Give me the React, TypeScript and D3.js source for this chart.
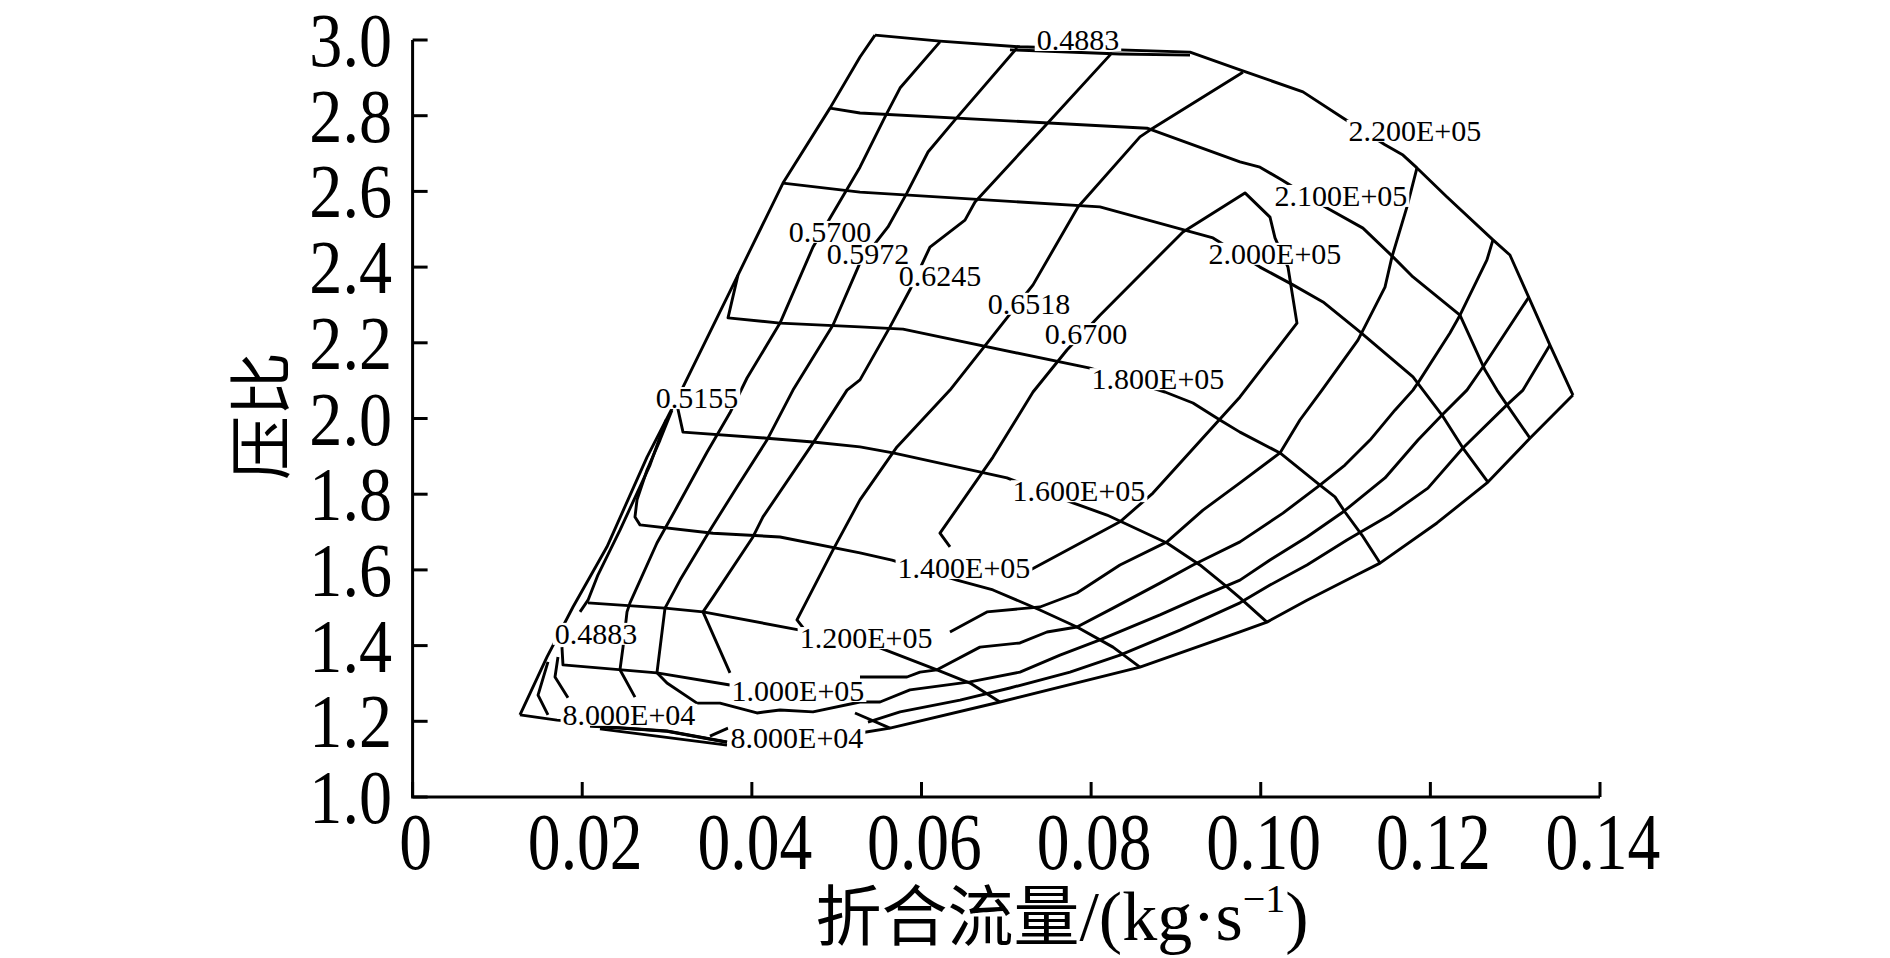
import React from "react";
import * as d3 from "d3";

type Pt = [number, number];

// ---- axis ticks ----
const xTicks = [0, 0.02, 0.04, 0.06, 0.08, 0.1, 0.12, 0.14];
const xTickLabels = ["0", "0.02", "0.04", "0.06", "0.08", "0.10", "0.12", "0.14"];
const yTicks = [1.0, 1.2, 1.4, 1.6, 1.8, 2.0, 2.2, 2.4, 2.6, 2.8, 3.0];
const yTickLabels = ["1.0", "1.2", "1.4", "1.6", "1.8", "2.0", "2.2", "2.4", "2.6", "2.8", "3.0"];

// ---- surge line (flow kg/s, pressure ratio) ----
const surgeLine: Pt[] = [[0.05452,3.013],[0.05275,2.955],[0.04921,2.820],[0.04367,2.622],[0.03836,2.379],[0.03188,2.083],[0.02764,1.898],[0.02292,1.661],[0.01891,1.502],[0.01585,1.370],[0.01266,1.217]];

// ---- speed lines ----
const speed220: Pt[] = [[0.05452,3.013],[0.06218,2.997],[0.07161,2.982],[0.09166,2.968],[0.09755,2.921],[0.10498,2.863],[0.10970,2.794],[0.11465,2.723],[0.11677,2.696],[0.11842,2.662],[0.12196,2.585],[0.12738,2.472],[0.12938,2.432],[0.13410,2.194],[0.13681,2.062]];
const speed210: Pt[] = [[0.04921,2.820],[0.05275,2.807],[0.08659,2.767],[0.09755,2.678],[0.09991,2.664],[0.10250,2.630],[0.10781,2.556],[0.11205,2.503],[0.11559,2.427],[0.11795,2.374],[0.12349,2.273],[0.12644,2.128],[0.12785,2.075],[0.12903,2.036],[0.13174,1.948]];
const speed200: Pt[] = [[0.04367,2.622],[0.05275,2.598],[0.08104,2.559],[0.09437,2.477],[0.09991,2.400],[0.10380,2.353],[0.10734,2.308],[0.11170,2.229],[0.11795,2.110],[0.11913,2.075],[0.12137,2.009],[0.12384,1.922],[0.12679,1.832]];
const speed180: Pt[] = [[0.03836,2.379],[0.03719,2.266],[0.04332,2.252],[0.05275,2.242],[0.05782,2.236],[0.07987,2.133],[0.08871,2.070],[0.09201,2.041],[0.09519,1.996],[0.09755,1.964],[0.10227,1.909],[0.10698,1.824],[0.10875,1.793],[0.10993,1.753],[0.11193,1.692],[0.11406,1.618]];
const speed160: Pt[] = [[0.03105,2.049],[0.03188,1.964],[0.04178,1.948],[0.04721,1.938],[0.05275,1.925],[0.05664,1.909],[0.07008,1.843],[0.07786,1.777],[0.08187,1.745],[0.08894,1.671],[0.09283,1.613],[0.09602,1.555],[0.09755,1.526],[0.10073,1.462]];
const speed140: Pt[] = [[0.03058,2.022],[0.02917,1.943],[0.02764,1.864],[0.02646,1.785],[0.02622,1.740],[0.02681,1.719],[0.03542,1.697],[0.04332,1.687],[0.05275,1.645],[0.05652,1.626],[0.06418,1.573],[0.06843,1.547],[0.07397,1.494],[0.07833,1.449],[0.08258,1.396],[0.08576,1.343]];
const speed120Leg: Pt[] = [[0.02988,1.996],[0.02799,1.877],[0.02445,1.705],[0.02186,1.587],[0.02068,1.520],[0.01974,1.489]];
const speed120: Pt[] = [[0.02068,1.513],[0.02976,1.499],[0.03424,1.489],[0.04567,1.441],[0.05511,1.394],[0.06183,1.336],[0.06572,1.301],[0.06925,1.251]];
const speed100a: Pt[] = [[0.01761,1.396],[0.01773,1.349],[0.02881,1.328],[0.03742,1.296]];
const speed100b: Pt[] = [[0.05216,1.222],[0.05629,1.182]];
const speed80a: Pt[] = [[0.01266,1.217],[0.01702,1.203],[0.02209,1.193]];
const speed80b: Pt[] = [[0.02092,1.188],[0.02999,1.174],[0.03707,1.145]];
const speed80c: Pt[] = [[0.02209,1.180],[0.03707,1.137]];
const speed80tick: Pt[] = [[0.03506,1.161],[0.03719,1.182]];
const chokeBoundary: Pt[] = [[0.13681,2.062],[0.13174,1.948],[0.12679,1.832],[0.12078,1.724],[0.11406,1.618],[0.11135,1.587],[0.10545,1.520],[0.10073,1.462],[0.09755,1.436],[0.08576,1.343],[0.06925,1.251],[0.05629,1.182],[0.05275,1.169]];

// ---- efficiency contours ----
const eff4883Top: Pt[] = [[0.07043,2.974],[0.08340,2.963],[0.09166,2.960]];
const eff4883LowA: Pt[] = [[0.01714,1.370],[0.01679,1.317],[0.01832,1.262]];
const eff4883LowB: Pt[] = [[0.01596,1.357],[0.01479,1.269],[0.01596,1.217]];
const eff5700Left: Pt[] = [[0.06218,2.995],[0.05747,2.873],[0.05570,2.797],[0.05275,2.664],[0.04957,2.543],[0.04721,2.453],[0.04332,2.252],[0.03943,2.107],[0.03742,2.015],[0.03471,1.911],[0.03117,1.766],[0.02881,1.671],[0.02563,1.513],[0.02528,1.489],[0.02481,1.396],[0.02445,1.336],[0.02622,1.264]];
const eff5700Right: Pt[] = [[0.05369,1.198],[0.05747,1.225],[0.06454,1.256],[0.07043,1.288],[0.07751,1.330],[0.08340,1.375],[0.09048,1.441],[0.09755,1.513],[0.10109,1.560],[0.10545,1.613],[0.11017,1.679],[0.11523,1.745],[0.11971,1.816],[0.12384,1.922],[0.12903,2.036],[0.13092,2.075],[0.13410,2.194]];
const eff5972: Pt[] = [[0.07126,2.979],[0.06395,2.789],[0.06077,2.704],[0.05829,2.596],[0.05605,2.506],[0.05275,2.411],[0.04957,2.247],[0.04485,2.075],[0.04178,1.943],[0.03825,1.819],[0.03506,1.705],[0.03153,1.573],[0.02976,1.499],[0.02881,1.328],[0.02999,1.301],[0.03353,1.248],[0.03624,1.248],[0.04060,1.222],[0.04332,1.230],[0.04721,1.225],[0.05275,1.251],[0.05511,1.251],[0.05864,1.283],[0.06572,1.304],[0.07161,1.330],[0.07633,1.375],[0.08104,1.415],[0.08812,1.481],[0.09283,1.528],[0.09755,1.573],[0.10109,1.626],[0.10545,1.687],[0.10970,1.753],[0.11465,1.843],[0.11854,1.943],[0.12149,2.012],[0.12431,2.075],[0.12620,2.136],[0.13162,2.321]];
const eff6245a: Pt[] = [[0.08246,2.966],[0.07432,2.767],[0.06631,2.572],[0.06513,2.524],[0.06100,2.453],[0.05864,2.340],[0.05629,2.242],[0.05275,2.102],[0.05122,2.075],[0.04721,1.935],[0.04131,1.740],[0.04013,1.687],[0.03542,1.528],[0.03424,1.489],[0.03742,1.328]];
const eff6245b: Pt[] = [[0.05275,1.317],[0.05829,1.317],[0.05982,1.330],[0.06183,1.336],[0.06689,1.396],[0.07161,1.407],[0.07480,1.436],[0.07833,1.449],[0.08258,1.499],[0.08812,1.565],[0.09201,1.613],[0.09755,1.674],[0.10262,1.750],[0.10698,1.824],[0.10993,1.877],[0.11288,1.943],[0.11582,2.022],[0.11795,2.075],[0.11877,2.102],[0.12231,2.226],[0.12349,2.273],[0.12667,2.419],[0.12738,2.472]];
const eff6518a: Pt[] = [[0.09790,2.915],[0.08694,2.762],[0.08576,2.744],[0.07845,2.559],[0.07315,2.353],[0.07008,2.266],[0.06336,2.075],[0.05711,1.925],[0.05275,1.785],[0.04957,1.653],[0.04532,1.468],[0.04626,1.441]];
const eff6518b: Pt[] = [[0.06336,1.436],[0.06772,1.489],[0.07244,1.499],[0.07397,1.502],[0.07833,1.539],[0.08340,1.613],[0.08894,1.674],[0.09319,1.758],[0.09755,1.830],[0.10227,1.909],[0.10462,1.996],[0.10722,2.075],[0.11146,2.207],[0.11465,2.347],[0.11547,2.427],[0.11724,2.559],[0.11842,2.662]];
const eff6700: Pt[] = [[0.06336,1.661],[0.06218,1.697],[0.06843,1.898],[0.07315,2.070],[0.07715,2.181],[0.08104,2.273],[0.09083,2.493],[0.09814,2.596],[0.10109,2.532],[0.10168,2.477],[0.10321,2.400],[0.10427,2.252],[0.09755,2.057],[0.08729,1.803],[0.08340,1.727],[0.07244,1.595]];

// ---- inline contour labels ----
const labelTexts = ["0.4883","2.200E+05","2.100E+05","2.000E+05","0.5700","0.5972","0.6245","0.6518","0.6700","1.800E+05","0.5155","1.600E+05","1.400E+05","1.200E+05","0.4883","1.000E+05","8.000E+04","8.000E+04"];
const labelFlow = [0.07845,0.11818,0.10946,0.10168,0.04921,0.05369,0.06218,0.07268,0.07940,0.08788,0.03353,0.07857,0.06501,0.05346,0.02162,0.04544,0.02551,0.04532];
const labelRatio = [3.000,2.760,2.588,2.435,2.493,2.435,2.376,2.303,2.223,2.104,2.054,1.808,1.605,1.420,1.431,1.280,1.217,1.156];

const mapLines: Pt[][] = [
  surgeLine, speed220, speed210, speed200, speed180, speed160, speed140, speed120Leg, speed120,
  speed100a, speed100b, speed80a, speed80b, speed80c, speed80tick, chokeBoundary,
  eff4883Top, eff4883LowA, eff4883LowB, eff5700Left, eff5700Right, eff5972, eff6245a, eff6245b,
  eff6518a, eff6518b, eff6700,
];

const SERIF = "'Liberation Serif', 'Times New Roman', serif";
const CJK = "'Noto Sans CJK SC', sans-serif";

function charW(c: string) {
  if (c === ".") return 0.25;
  if (c === "E") return 0.611;
  if (c === "+") return 0.564;
  return 0.5;
}

export default function App() {
  const W = 1890, H = 958;
  const x = d3.scaleLinear().domain([0, 0.14]).range([412.6, 1600]);
  const y = d3.scaleLinear().domain([1, 3]).range([797, 40]);
  const line = d3.line<Pt>().x((d) => x(d[0])).y((d) => y(d[1]));
  const LFS = 30;

  return (
    <svg width={W} height={H} style={{ position: "absolute", left: 0, top: 0, background: "#fff", display: "block" }}>
      <rect x={0} y={0} width={W} height={H} fill="#fff" />
      <g fill="none" stroke="#000" strokeWidth={2.9} strokeLinejoin="round" strokeLinecap="butt">
        {mapLines.map((pts, i) => (
          <path key={i} d={line(pts) || ""} />
        ))}
        <path d={line(speed80b) || ""} strokeWidth={3.4} />
      </g>
      <g>
        {labelTexts.map((t, i) => {
          const w = LFS * t.split("").reduce((s, c) => s + charW(c), 0);
          return (
            <rect key={i} x={x(labelFlow[i]) - w / 2 - 2} y={y(labelRatio[i]) - 11} width={w + 4} height={22} fill="#fff" />
          );
        })}
        {labelTexts.map((t, i) => (
          <text key={i} x={x(labelFlow[i])} y={y(labelRatio[i]) + 10} textAnchor="middle" fontFamily={SERIF} fontSize={LFS} fill="#000">
            {t}
          </text>
        ))}
      </g>
      {/* axes */}
      <g stroke="#000" strokeWidth={3} fill="none">
        <path d={`M${x(0)},${y(3)}V${y(1)}H${x(0.14)}`} />
        {yTicks.map((t) => (
          <line key={"yt" + t} x1={x(0)} x2={x(0) + 15} y1={y(t)} y2={y(t)} />
        ))}
        {xTicks.map((t) => (
          <line key={"xt" + t} x1={x(t)} x2={x(t)} y1={y(1)} y2={y(1) - 15} />
        ))}
      </g>
      <g fontFamily={SERIF} fill="#000">
        {yTicks.map((t, i) => (
          <text key={"yl" + i} transform={`translate(392,${y(t) + 26}) scale(0.87,1)`} textAnchor="end" fontSize={76}>
            {yTickLabels[i]}
          </text>
        ))}
        {xTicks.map((t, i) => (
          <text key={"xl" + i} transform={`translate(${x(t) + 3},869) scale(0.82,1)`} textAnchor="middle" fontSize={80}>
            {xTickLabels[i]}
          </text>
        ))}
      </g>
      <text x={1062} y={940} textAnchor="middle" fill="#000">
        <tspan fontFamily={CJK} fontSize={66}>折合流量</tspan>
        <tspan fontFamily={SERIF} fontSize={70}>/(kg·s</tspan>
        <tspan fontFamily={SERIF} fontSize={40} dy={-28}>−1</tspan>
        <tspan fontFamily={SERIF} fontSize={70} dy={28}>)</tspan>
      </text>
      <text transform="translate(284,416) rotate(-90)" textAnchor="middle" fontFamily={CJK} fontSize={64} fill="#000">
        压比
      </text>
    </svg>
  );
}
